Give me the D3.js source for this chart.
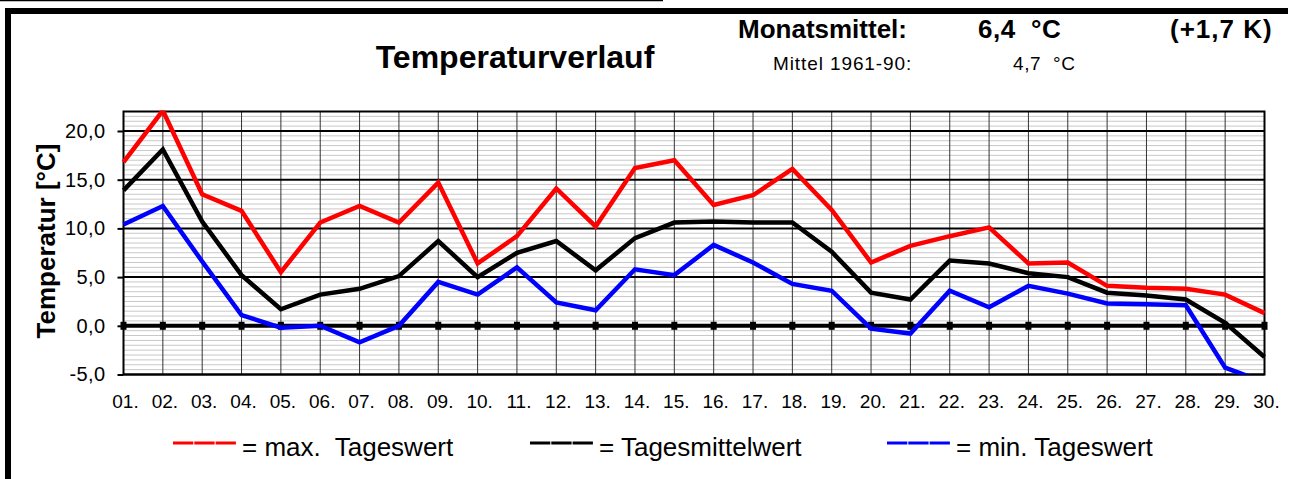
<!DOCTYPE html>
<html>
<head>
<meta charset="utf-8">
<script src="https://cdn.jsdelivr.net/npm/d3@7"></script>
<style>
  body { margin: 0; background: #fff; }
  svg { display: block; font-family: "Liberation Sans", Arial, sans-serif; }
  text { white-space: pre; }
</style>
</head>
<body>
<div class="container"></div>
<script>
const days = d3.range(1, 31);
const dayLabels = days.map((d) => String(d).padStart(2, "0") + ".");
const tMax = [16.8, 22.1, 13.5, 11.8, 5.5, 10.6, 12.3, 10.6, 14.7, 6.4,
  9.2, 14.1, 10.2, 16.2, 17.0, 12.4, 13.4, 16.1, 11.9, 6.5,
  8.2, 9.2, 10.1, 6.4, 6.5, 4.1, 3.9, 3.8, 3.2, 1.3];
const tMean = [13.9, 18.1, 10.7, 5.2, 1.7, 3.2, 3.8, 5.1, 8.7, 5.0,
  7.5, 8.7, 5.7, 9.0, 10.6, 10.7, 10.6, 10.6, 7.6, 3.4,
  2.7, 6.7, 6.4, 5.4, 5.0, 3.4, 3.1, 2.7, 0.3, -3.2];
const tMin = [10.4, 12.3, 6.6, 1.1, -0.2, 0.0, -1.7, 0.0, 4.5, 3.2,
  6.0, 2.4, 1.6, 5.8, 5.2, 8.3, 6.5, 4.3, 3.6, -0.3,
  -0.8, 3.6, 1.9, 4.1, 3.3, 2.3, 2.2, 2.1, -4.3, -5.8];
const yTicks = [-5, 0, 5, 10, 15, 20];
const series = [
  { name: "max. Tageswert", label: "= max.  Tageswert", values: tMax, color: "#ff0000" },
  { name: "Tagesmittelwert", label: "= Tagesmittelwert", values: tMean, color: "#000000" },
  { name: "min. Tageswert", label: "= min. Tageswert", values: tMin, color: "#0000ff" }
];

const WIDTH = 1293, HEIGHT = 479;
const PLOT = { left: 123.5, right: 1264.5, top: 111.5, bottom: 374.5 };

const x = d3.scaleLinear().domain([1, 30]).range([PLOT.left, PLOT.right]);
const y = d3.scaleLinear().domain([-5, 22]).range([PLOT.bottom, PLOT.top]);

const svg = d3.select(".container")
  .append("svg")
  .attr("viewBox", [0, 0, WIDTH, HEIGHT])
  .attr("width", WIDTH)
  .attr("height", HEIGHT);

// frame
svg.append("line").attr("x1", 0).attr("x2", 663).attr("y1", 0.5).attr("y2", 0.5)
  .attr("stroke", "#000").attr("stroke-width", 1.5);
svg.append("path")
  .attr("d", `M8,${HEIGHT} V11 H1288`)
  .attr("fill", "none").attr("stroke", "#000").attr("stroke-width", 6);

// headings
svg.append("text").attr("x", 515).attr("y", 68).attr("text-anchor", "middle")
  .attr("font-weight", "bold").attr("font-size", 32).text("Temperaturverlauf");
const head = [
  { t: "Monatsmittel:", x: 738, y: 38, b: true, s: 26, ls: 0 },
  { t: "6,4  °C", x: 978, y: 38, b: true, s: 26, ls: 0.5 },
  { t: "(+1,7 K)", x: 1170, y: 38, b: true, s: 26, ls: 1 },
  { t: "Mittel 1961-90:", x: 773, y: 70, b: false, s: 19, ls: 0.9 },
  { t: "4,7  °C", x: 1013, y: 70, b: false, s: 19, ls: 0.6 }
];
svg.append("g").selectAll("text").data(head).join("text")
  .attr("x", (d) => d.x).attr("y", (d) => d.y)
  .attr("font-weight", (d) => (d.b ? "bold" : "normal"))
  .attr("font-size", (d) => d.s)
  .attr("letter-spacing", (d) => d.ls)
  .text((d) => d.t);

// minor grid every 0.5
const minor = d3.range(-5, 22.01, 0.5).filter((v) => v % 5 !== 0);
svg.append("g").selectAll("line").data(minor).join("line")
  .attr("x1", PLOT.left).attr("x2", PLOT.right)
  .attr("y1", (d) => y(d)).attr("y2", (d) => y(d))
  .attr("stroke", "#c8c8c8").attr("stroke-width", 1);

// vertical day grid
svg.append("g").selectAll("line").data(days).join("line")
  .attr("x1", (d) => x(d)).attr("x2", (d) => x(d))
  .attr("y1", PLOT.top).attr("y2", PLOT.bottom)
  .attr("stroke", "#333").attr("stroke-width", 1);

// y axis with major grid
const yAxis = svg.append("g")
  .attr("transform", `translate(${PLOT.left},0)`)
  .call(d3.axisLeft(y).tickValues(yTicks).tickSize(6).tickPadding(12)
    .tickFormat((d) => d3.format(".1f")(d).replace(".", ",").replace("\u2212", "-")));
yAxis.select(".domain").remove();
yAxis.selectAll("line").attr("stroke", "#000").attr("stroke-width", 2);
yAxis.selectAll("text").attr("font-size", 20).attr("letter-spacing", 0.4)
  .attr("font-family", "Liberation Sans, Arial, sans-serif").attr("fill", "#000");
svg.append("g").selectAll("line").data(yTicks).join("line")
  .attr("x1", PLOT.left).attr("x2", PLOT.right)
  .attr("y1", (d) => y(d)).attr("y2", (d) => y(d))
  .attr("stroke", "#000").attr("stroke-width", 2);

// plot border
svg.append("rect")
  .attr("x", PLOT.left).attr("y", PLOT.top)
  .attr("width", PLOT.right - PLOT.left).attr("height", PLOT.bottom - PLOT.top)
  .attr("fill", "none").attr("stroke", "#000").attr("stroke-width", 2);

// x labels
svg.append("g").selectAll("text").data(days).join("text")
  .attr("x", (d) => x(d) + 2).attr("y", 408)
  .attr("text-anchor", "middle").attr("font-size", 19)
  .text((d, i) => dayLabels[i]);

// y title
svg.append("text")
  .attr("transform", `translate(55,241) rotate(-90)`)
  .attr("text-anchor", "middle").attr("font-weight", "bold").attr("font-size", 26)
  .text("Temperatur [°C]");

// zero line with markers
svg.append("line").attr("x1", PLOT.left).attr("x2", PLOT.right)
  .attr("y1", y(0)).attr("y2", y(0)).attr("stroke", "#000").attr("stroke-width", 4);
svg.append("g").selectAll("rect").data(days).join("rect")
  .attr("x", (d) => x(d) - 3).attr("y", y(0) - 4)
  .attr("width", 6).attr("height", 8).attr("fill", "#000");

// data lines
svg.append("clipPath").attr("id", "plotclip").append("rect")
  .attr("x", PLOT.left - 3).attr("y", PLOT.top - 1)
  .attr("width", PLOT.right - PLOT.left + 6).attr("height", PLOT.bottom - PLOT.top + 1);
const line = d3.line().x((d, i) => x(days[i])).y((d) => y(d));
svg.append("g").attr("clip-path", "url(#plotclip)")
  .selectAll("path").data(series).join("path")
  .attr("d", (d) => line(d.values))
  .attr("fill", "none").attr("stroke", (d) => d.color)
  .attr("stroke-width", 4.5).attr("stroke-linejoin", "miter");

// legend
const legendX = [173, 530, 887];
const legend = svg.append("g").selectAll("g").data(series).join("g")
  .attr("transform", (d, i) => `translate(${legendX[i]},443)`);
legend.append("line").attr("x1", 0).attr("x2", 63)
  .attr("stroke", (d) => d.color).attr("stroke-width", 3)
  .attr("stroke-dasharray", "20.3,1");
legend.append("text").attr("x", 69).attr("y", 13)
  .attr("font-size", 26).text((d) => d.label);
</script>
</body>
</html>
